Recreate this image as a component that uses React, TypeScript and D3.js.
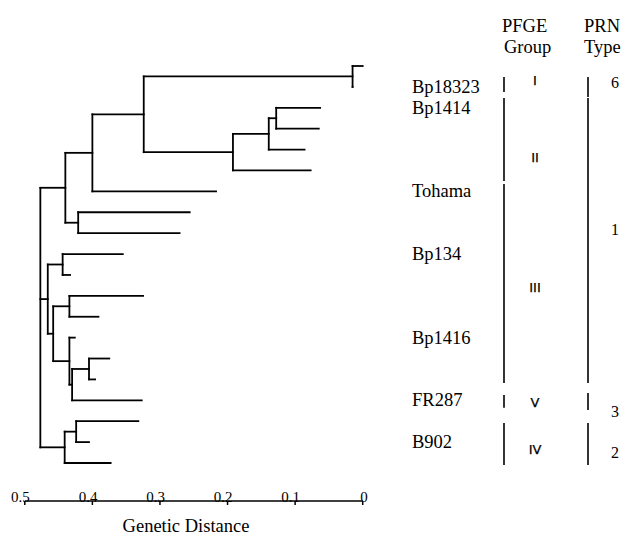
import React from "react";
import * as d3 from "d3";

type TreeNode = { h: number; children?: TreeNode[] };

// genetic distance of every node, leaves listed top to bottom
const tree: TreeNode = {
  h: 0.477,
  children: [
    {
      h: 0.44,
      children: [
        {
          h: 0.4,
          children: [
            {
              h: 0.324,
              children: [
                { h: 0.015, children: [{ h: 0 }, { h: 0.015 }] },
                {
                  h: 0.192,
                  children: [
                    {
                      h: 0.139,
                      children: [
                        { h: 0.128, children: [{ h: 0.063 }, { h: 0.065 }] },
                        { h: 0.086 },
                      ],
                    },
                    { h: 0.077 },
                  ],
                },
              ],
            },
            { h: 0.217 },
          ],
        },
        { h: 0.421, children: [{ h: 0.256 }, { h: 0.271 }] },
      ],
    },
    {
      h: 0.466,
      children: [
        { h: 0.444, children: [{ h: 0.355 }, { h: 0.433 }] },
        {
          h: 0.458,
          children: [
            { h: 0.434, children: [{ h: 0.325 }, { h: 0.391 }] },
            {
              h: 0.434,
              children: [
                { h: 0.426 },
                {
                  h: 0.43,
                  children: [
                    { h: 0.405, children: [{ h: 0.375 }, { h: 0.396 }] },
                    { h: 0.327 },
                  ],
                },
              ],
            },
          ],
        },
      ],
    },
    {
      h: 0.441,
      children: [
        { h: 0.424, children: [{ h: 0.332 }, { h: 0.405 }] },
        { h: 0.373 },
      ],
    },
  ],
};

const strains = ["Bp18323", "Bp1414", "Tohama", "Bp134", "Bp1416", "FR287", "B902"];
const strainLeaf = [1, 2, 6, 9, 13, 16, 18];

// spans in leaf rows
const pfgeGroups = ["I", "II", "III", "V", "IV"];
const pfgeFrom = [0.53, 1.53, 5.65, 15.74, 17.08];
const pfgeTo = [1.24, 5.5, 15.17, 16.36, 19.09];
const pfgeAt = [0.69, 4.35, 10.57, 16.1, 18.33];

const prnTypes = ["6", "1", "3", "2"];
const prnFrom = [0.53, 1.53, 15.65, 17.08];
const prnTo = [1.48, 15.17, 16.46, 19.09];
const prnAt = [0.81, 7.85, 16.56, 18.52];

const ticks = [0.5, 0.4, 0.3, 0.2, 0.1, 0];

const width = 628;
const height = 535;
const serif = "'Liberation Serif', 'Times New Roman', serif";
const sans = "'DejaVu Sans', Arial, sans-serif";

export default function App() {
  const x = d3.scaleLinear().domain([0.5, 0]).range([24.8, 362.7]);
  const root = d3.hierarchy(tree);
  const leaves = root.leaves();
  const y = d3.scaleLinear().domain([0, leaves.length - 1]).range([66, 463]);

  const pos = new Map<d3.HierarchyNode<TreeNode>, number>();
  leaves.forEach((l, i) => pos.set(l, y(i)));
  root.eachAfter((n) => {
    if (n.children) {
      const c = n.children;
      pos.set(n, (pos.get(c[0])! + pos.get(c[c.length - 1])!) / 2);
    }
  });

  const segs: { x1: number; y1: number; x2: number; y2: number }[] = [];
  root.each((n) => {
    if (n.children) {
      const c = n.children;
      segs.push({ x1: x(n.data.h), x2: x(n.data.h), y1: pos.get(c[0])!, y2: pos.get(c[c.length - 1])! });
    }
    if (n.parent) {
      segs.push({ x1: x(n.parent.data.h), x2: x(n.data.h), y1: pos.get(n)!, y2: pos.get(n)! });
    }
  });

  const axisY = 501;

  return (
    <svg
      width={width}
      height={height}
      style={{ position: "absolute", left: 0, top: 0, background: "#fff" }}
    >
      <g stroke="#000" strokeWidth={1.8} strokeLinecap="square" fill="none">
        {segs.map((s, i) => (
          <line key={i} x1={s.x1} y1={s.y1} x2={s.x2} y2={s.y2} />
        ))}
      </g>

      {/* axis */}
      <line x1={x(0.5)} x2={x(0)} y1={axisY} y2={axisY} stroke="#000" strokeWidth={1.5} />
      {ticks.map((t) => (
        <g key={t}>
          <line x1={x(t)} x2={x(t)} y1={axisY} y2={axisY + 4} stroke="#000" strokeWidth={1.5} />
          <text x={x(t) + 5} y={axisY + 1} textAnchor="end" fontFamily={serif} fontSize={15}>
            {t === 0 ? "0" : String(t)}
          </text>
        </g>
      ))}
      <text x={186} y={532} textAnchor="middle" fontFamily={serif} fontSize={18.5}>
        Genetic Distance
      </text>

      {/* strain labels */}
      {strains.map((s, i) => (
        <text key={s} x={412} y={y(strainLeaf[i]) + 6} fontFamily={serif} fontSize={18.5}>
          {s}
        </text>
      ))}

      {/* headers */}
      <g fontFamily={serif} fontSize={18.5}>
        <text x={502} y={32}>PFGE</text>
        <text x={504} y={53}>Group</text>
        <text x={584} y={32}>PRN</text>
        <text x={584} y={53}>Type</text>
      </g>

      {pfgeGroups.map((g, i) => (
        <g key={g}>
          <line x1={504} x2={504} y1={y(pfgeFrom[i])} y2={y(pfgeTo[i])} stroke="#000" strokeWidth={1.6} />
          <text
            x={535}
            y={y(pfgeAt[i]) + 5}
            textAnchor="middle"
            fontFamily={sans}
            fontSize={13}
            fill="#000"
            stroke="#000"
            strokeWidth={0.25}
          >
            {g}
          </text>
        </g>
      ))}

      {prnTypes.map((p, i) => (
        <g key={p}>
          <line x1={588} x2={588} y1={y(prnFrom[i])} y2={y(prnTo[i])} stroke="#000" strokeWidth={1.6} />
          <text x={615} y={y(prnAt[i]) + 5} textAnchor="middle" fontFamily={serif} fontSize={16}>
            {p}
          </text>
        </g>
      ))}
    </svg>
  );
}
